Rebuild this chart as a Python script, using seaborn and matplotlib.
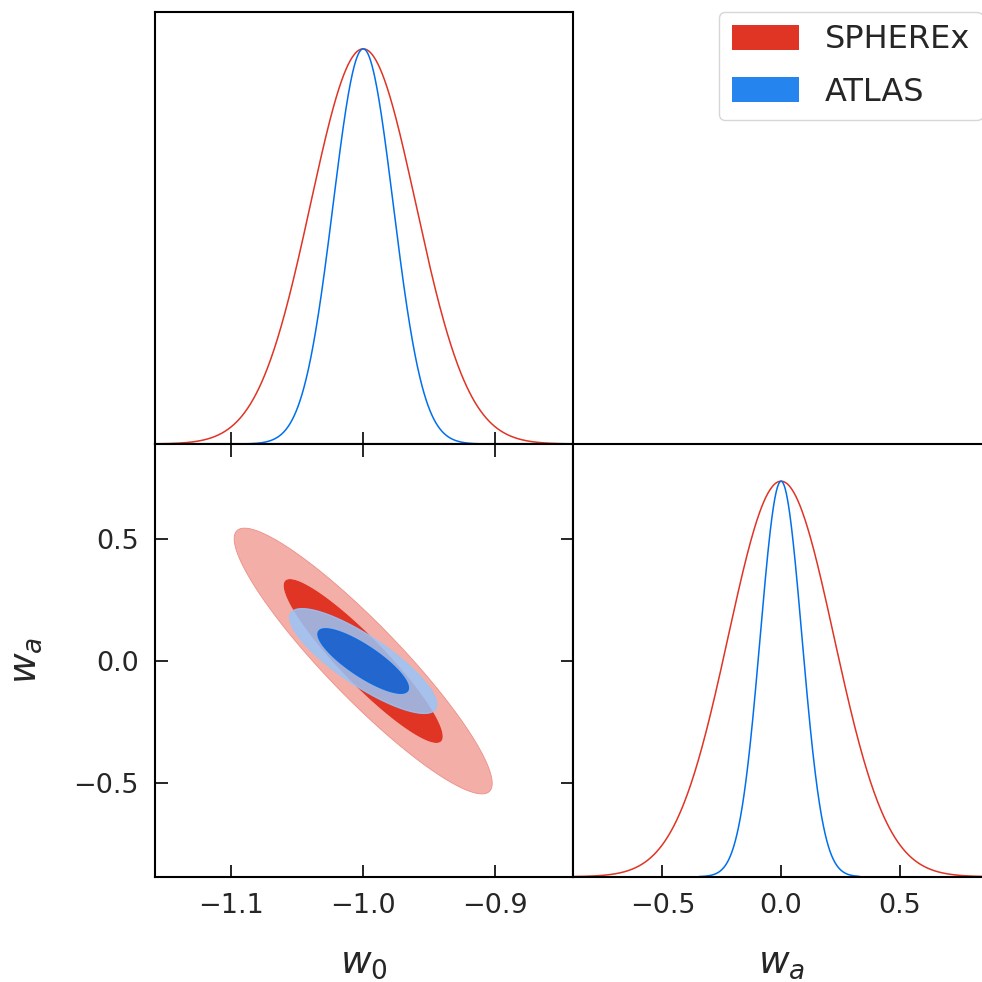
import numpy as np
import pandas as pd
import matplotlib
matplotlib.use("Agg")
import matplotlib.pyplot as plt
import matplotlib.colors as mcolors
from matplotlib.patches import Patch
import seaborn as sns

# ---------------- data ----------------
samples = ["SPHEREx", "ATLAS"]
base_colors = ["#E03424", "#006FED"]
mean_w0 = [-1.0, -1.0]
mean_wa = [0.0, 0.0]
sigma_w0 = [0.0400, 0.0228]
sigma_wa = [0.223, 0.088]
corr_w0_wa = [-0.92, -0.83]
conf_levels = [0.68, 0.95]
w0_ticks = [-1.1, -1.0, -0.9]
wa_ticks = [-0.5, 0.0, 0.5]
w0_tick_labels = ["\u22121.1", "\u22121.0", "\u22120.9"]
wa_tick_labels = ["\u22120.5", "0.0", "0.5"]
w0_lim = [-1.158, -0.841]
wa_lim_y = [-0.886, 0.8915]
wa_lim_x = [-0.878, 0.882]
w0_curve_range = [[-1.158, -0.841], [-1.092, -0.910]]
wa_curve_range = [[-0.878, 0.882], [-0.345, 0.330]]
sample_alpha = [1.0, 0.85]

# ---------------- style ----------------
sns.set_style("white")
plt.rcParams["font.family"] = ["DejaVu Sans"]
plt.rcParams["mathtext.fontset"] = "dejavusans"
plt.rcParams["axes.edgecolor"] = "black"
plt.rcParams["axes.linewidth"] = 1.5

W = 982.0
fig = plt.figure(figsize=(9.82, 9.82), dpi=100)

def box(l, t, r, b):
    return [l / W, 1 - b / W, (r - l) / W, (b - t) / W]

ax_top = fig.add_axes(box(155, 11.7, 572.7, 444))
ax_2d = fig.add_axes(box(155, 444, 572.7, 876.7))
ax_r = fig.add_axes(box(572.7, 444, 990.4, 876.7))

TICK_FS = 19.5
LABEL_FS = 27
TICK_LEN = 9

def pale(c, f=0.6):
    rgb = np.array(mcolors.to_rgb(c))
    return tuple(rgb * (1 - f) + f)

# ---------------- 1D marginals ----------------
for i, name in enumerate(samples):
    x = np.linspace(w0_curve_range[i][0], w0_curve_range[i][1], 600)
    p = np.exp(-0.5 * ((x - mean_w0[i]) / sigma_w0[i]) ** 2)
    df = pd.DataFrame({"w0": x, "P": p})
    sns.lineplot(data=df, x="w0", y="P", ax=ax_top, color=base_colors[i],
                 lw=1.1, sort=False)

    x = np.linspace(wa_curve_range[i][0], wa_curve_range[i][1], 600)
    p = np.exp(-0.5 * ((x - mean_wa[i]) / sigma_wa[i]) ** 2)
    df = pd.DataFrame({"wa": x, "P": p})
    sns.lineplot(data=df, x="wa", y="P", ax=ax_r, color=base_colors[i],
                 lw=1.1, sort=False)

# ---------------- 2D contours ----------------
gx = np.linspace(w0_lim[0], w0_lim[1], 600)
gy = np.linspace(wa_lim_y[0], wa_lim_y[1], 600)
X, Y = np.meshgrid(gx, gy)
for i, name in enumerate(samples):
    dx = (X - mean_w0[i]) / sigma_w0[i]
    dy = (Y - mean_wa[i]) / sigma_wa[i]
    r = corr_w0_wa[i]
    Q = (dx ** 2 - 2 * r * dx * dy + dy ** 2) / (1 - r ** 2)
    Z = np.exp(-0.5 * Q)
    thr = sorted(np.exp(-0.5 * (-2 * np.log(1 - np.array(conf_levels)))))
    levels = [thr[0], thr[1], 1.01]
    cols = [pale(base_colors[i]), mcolors.to_rgb(base_colors[i])]
    ax_2d.contourf(X, Y, Z, levels=levels, colors=cols, alpha=sample_alpha[i],
                   antialiased=True)
    if i > 0:
        ax_2d.contour(X, Y, Z, levels=levels[:2], colors=cols, linewidths=0.9,
                      alpha=sample_alpha[i])
    else:
        ax_2d.contour(X, Y, Z, levels=levels[:1], colors=[(0.93, 0.56, 0.53)],
                      linewidths=0.6)

# ---------------- axes formatting ----------------
for ax in (ax_top, ax_r):
    ax.set_ylim(0, 1.094)
    ax.set_yticks([])
    ax.set_ylabel("")
    ax.set_xlabel("")

ax_top.set_xlim(w0_lim)
ax_top.set_xticks(w0_ticks)
ax_top.tick_params(axis="x", direction="in", length=TICK_LEN, width=1.4,
                   labelbottom=False, bottom=True, top=False)

ax_r.set_xlim(wa_lim_x)
ax_r.set_xticks(wa_ticks)
ax_r.set_xticklabels(wa_tick_labels)
ax_r.tick_params(axis="x", direction="in", length=TICK_LEN, width=1.4,
                 labelsize=TICK_FS, pad=11.5, bottom=True, top=False)
ax_r.set_xlabel("$w_a$", fontsize=LABEL_FS, labelpad=19)

ax_2d.set_xlim(w0_lim)
ax_2d.set_ylim(wa_lim_y)
ax_2d.set_xticks(w0_ticks)
ax_2d.set_yticks(wa_ticks)
ax_2d.set_xticklabels(w0_tick_labels)
ax_2d.set_yticklabels(wa_tick_labels)
ax_2d.tick_params(direction="in", length=TICK_LEN, width=1.4, labelsize=TICK_FS,
                  pad=11.5, top=True, right=True, bottom=True, left=True)
ax_2d.set_xlabel("$w_0$", fontsize=LABEL_FS, labelpad=19)
ax_2d.set_ylabel("$w_a$", fontsize=LABEL_FS, labelpad=21)

for ax in (ax_top, ax_2d, ax_r):
    for s in ax.spines.values():
        s.set_linewidth(1.5)
        s.set_color("black")

# ---------------- legend ----------------
handles = [Patch(facecolor=base_colors[i], alpha=sample_alpha[i], edgecolor="none")
           for i in range(len(samples))]
fig.legend(handles, samples, loc="upper left",
           bbox_to_anchor=(719 / W, 1 - 11.7 / W), borderaxespad=0,
           fontsize=23, handlelength=2.1, handleheight=0.8, labelspacing=0.66,
           frameon=True)

fig.savefig("out.png", dpi=100)
